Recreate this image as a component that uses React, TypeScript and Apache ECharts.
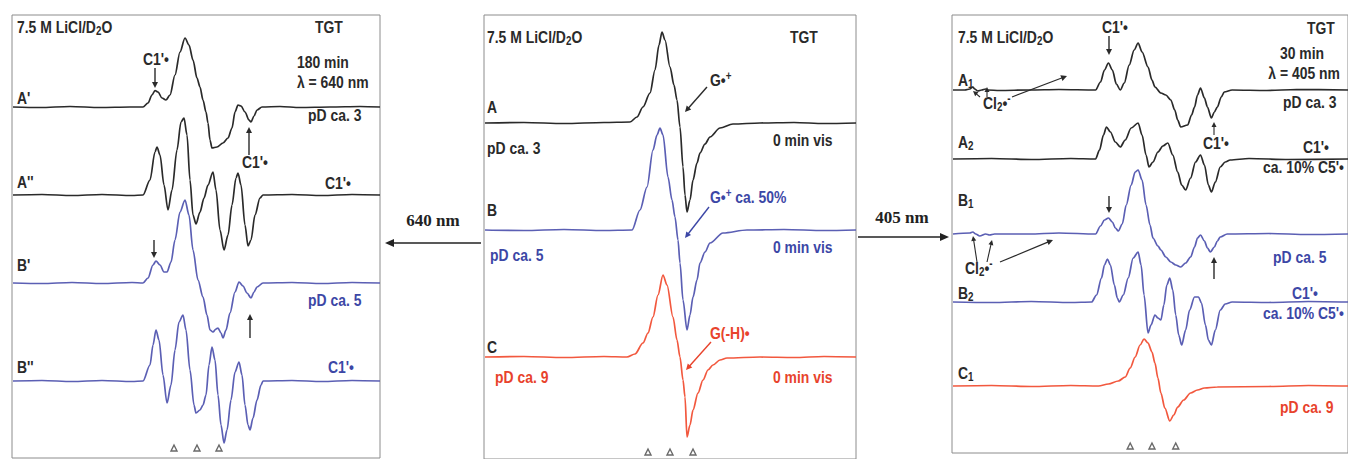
import React, { useEffect, useRef } from "react";
import * as echarts from "echarts";

// ---------- DATA : [field (a.u.), signal amplitude (a.u.)] ----------
// Left panel: 180 min, λ = 640 nm
const specAp = [[1,0],[28,-0.5],[58,0.5],[88,-0.5],[118,0],[131,0],[136,4],[140,12],[143,16.5],[146,15],[150,9],[154,7],[158,12],[163,32],[168,55],[173,69],[177,62],[181,47],[185,29],[188,20],[191,7],[194,-5],[196,-16],[198,-33],[200,-41],[205,-40],[211,-36],[216,-31],[220,-21],[223,-5],[226,2],[229,1],[233,-5],[237,-13],[239,-15],[242,-9],[245,-3],[250,0],[268,0.5],[288,-0.5],[318,0],[348,0.5],[368,0]];
const specApp = [[1,0],[30,0.5],[60,-0.5],[90,0.5],[120,-0.5],[131,0],[138,15],[143,43],[145,48],[148,40],[152,10],[156,-15],[160,5],[165,45],[169,73],[172,77],[175,60],[178,15],[181,-20],[184,-29],[188,-17],[192,-3],[196,10],[201,23],[204,5],[208,-35],[212,-55],[216,-40],[220,-10],[224,17],[226,22],[229,10],[233,-30],[236,-51],[239,-45],[243,-20],[248,-3],[251,0],[280,0.5],[310,-0.5],[340,0.5],[368,0]];
const specBp = [[1,0],[30,-0.5],[60,0.5],[90,-0.5],[120,0.5],[131,0],[136,5],[141,18],[144,22],[148,18],[152,11],[155,11],[159,21],[163,43],[168,71],[173,83],[177,68],[181,33],[186,3],[191,-14],[195,-32],[198,-47],[201,-49],[204,-46],[206,-45],[209,-50],[211,-55],[214,-47],[218,-30],[223,-9],[227,1],[231,-3],[235,-10],[239,-15],[242,-9],[245,-4],[251,0],[280,0.5],[310,-0.5],[340,0.5],[368,0]];
const specBpp = [[1,0],[30,0.5],[60,-0.5],[90,0.5],[120,-0.5],[131,0],[138,16],[141,36],[144,51],[147,41],[151,6],[155,-22],[159,-4],[163,31],[167,59],[171,66],[174,51],[178,11],[182,-24],[184,-32],[188,-29],[191,-24],[194,-14],[197,16],[200,34],[203,21],[206,-14],[209,-44],[212,-62],[215,-49],[219,-19],[223,9],[227,19],[230,6],[233,-24],[236,-44],[238,-49],[241,-37],[245,-19],[249,-4],[251,0],[280,0.5],[310,-0.5],[340,0.5],[368,0]];

// Centre panel: 0 min vis
const specA = [[1,0],[40,0.5],[80,-0.5],[120,0.5],[146,1],[153,6],[159,16],[166,30],[171,53],[175,78],[178,91],[181,83],[186,56],[190,38],[193,23],[196,-4],[199,-44],[201,-72],[203,-89],[206,-77],[209,-57],[213,-40],[216,-30],[221,-21],[226,-14],[236,-5],[249,-1],[276,0],[310,0.5],[340,-0.5],[372,0]];
const specB = [[1,0],[40,-0.5],[80,0.5],[120,-0.5],[148,0],[156,20],[163,43],[169,80],[173,95],[176,102],[179,95],[184,53],[188,30],[191,13],[194,-10],[196,-33],[199,-70],[203,-100],[206,-85],[209,-67],[213,-50],[216,-33],[221,-22],[226,-13],[239,-3],[263,0],[300,0.5],[340,-0.5],[372,0]];
const specC = [[1,0],[40,0.5],[80,-0.5],[120,0.5],[143,0],[151,3],[159,14],[164,24],[169,40],[174,62],[179,82],[183,72],[189,40],[193,17],[196,0],[199,-23],[201,-40],[203,-80],[206,-68],[209,-53],[214,-36],[219,-23],[224,-13],[229,-8],[236,-3],[243,-1],[276,0],[310,-0.5],[340,0.5],[372,0]];

// Right panel: 30 min, λ = 405 nm
const specA1 = [[1,0],[13,0],[18,1],[21,3],[23,1],[26,-1],[30,0],[34,1],[36,0],[48,-0.5],[78,0],[108,0.5],[145,0],[150,8],[154,20],[158,27],[162,20],[166,6],[170,0],[174,7],[179,25],[184,40],[188,47],[192,38],[198,23],[202,10],[205,3],[211,-3],[216,-5],[221,-10],[225,-20],[228,-30],[231,-37],[238,-35],[242,-25],[245,-17],[248,-5],[251,2],[255,-8],[258,-17],[262,-28],[265,-22],[268,-17],[272,-7],[275,-2],[283,0],[318,-0.5],[348,0.5],[400,0]];
const specA2 = [[1,0],[40,0.5],[80,-0.5],[120,0.5],[145,0],[149,9],[153,24],[156,32],[160,27],[165,17],[170,12],[175,19],[181,31],[188,36],[192,24],[196,4],[199,-8],[203,-3],[208,7],[213,13],[218,16],[223,4],[228,-13],[232,-26],[236,-31],[241,-19],[246,-3],[251,4],[255,-6],[259,-26],[262,-33],[266,-23],[271,-8],[276,-3],[281,-1],[300,0.5],[340,-0.5],[400,0]];
const specB1 = [[1,0],[18,1],[21,2],[24,0],[28,-2],[34,0],[38,-1],[43,0],[78,0],[108,1],[145,0],[150,8],[154,14],[158,16],[162,12],[165,6],[168,3],[172,10],[176,29],[181,49],[185,62],[188,64],[192,54],[196,29],[200,9],[203,-4],[208,-12],[211,-16],[216,-23],[221,-28],[226,-31],[231,-33],[236,-29],[241,-23],[245,-13],[248,-4],[251,-1],[255,-7],[258,-14],[261,-18],[265,-13],[268,-7],[271,-3],[278,0],[320,0.5],[360,-0.5],[400,0]];
const specB2 = [[1,0],[40,-0.5],[80,0.5],[120,-0.5],[141,0],[146,7],[151,24],[154,37],[157,43],[160,37],[164,17],[167,4],[169,0],[173,7],[178,24],[183,44],[188,50],[191,37],[194,7],[198,-31],[201,-23],[205,-13],[208,-16],[211,-18],[214,-3],[217,17],[220,24],[223,12],[226,-13],[229,-33],[232,-43],[236,-28],[240,-8],[245,5],[249,5],[252,-1],[256,-23],[259,-38],[262,-43],[266,-28],[271,-8],[276,-2],[283,0],[320,-0.5],[360,0.5],[400,0]];
const specC1 = [[1,0],[40,0.5],[80,-0.5],[120,0.5],[148,0],[158,2],[168,5],[175,9],[180,18],[185,29],[190,41],[194,47],[198,43],[202,34],[205,23],[208,8],[211,-7],[215,-22],[220,-35],[224,-29],[228,-21],[234,-14],[241,-7],[248,-4],[255,-2],[268,-1],[320,-0.5],[360,0.5],[400,0]];

// marker (triangle) field positions per panel
const markersLeft = [162, 185, 207];
const markersCenter = [164, 186, 209];
const markersRight = [180, 202, 226];

// ---------- LAYOUT / STYLE ----------
const BLACK = "#2a2a2a";
const BLUE_LINE = "#5b5fb4";
const RED_LINE = "#f2583e";
const BLUE_TXT = "#3c47a6";
const RED_TXT = "#e8432c";

const panels = [
  { left: 12, top: 15, width: 368, height: 443, xMax: 368 },
  { left: 484, top: 15, width: 372, height: 444, xMax: 372 },
  { left: 952, top: 15, width: 400, height: 438, xMax: 400 },
];

const spectra = [
  { panel: 0, data: specAp, offset: 351, color: BLACK },
  { panel: 0, data: specApp, offset: 263, color: BLACK },
  { panel: 0, data: specBp, offset: 175, color: BLUE_LINE },
  { panel: 0, data: specBpp, offset: 77, color: BLUE_LINE },
  { panel: 1, data: specA, offset: 336, color: BLACK },
  { panel: 1, data: specB, offset: 229, color: BLUE_LINE },
  { panel: 1, data: specC, offset: 102, color: RED_LINE },
  { panel: 2, data: specA1, offset: 363, color: BLACK },
  { panel: 2, data: specA2, offset: 294, color: BLACK },
  { panel: 2, data: specB1, offset: 219, color: BLUE_LINE },
  { panel: 2, data: specB2, offset: 151, color: BLUE_LINE },
  { panel: 2, data: specC1, offset: 67, color: RED_LINE },
];

const markerSets = [
  { panel: 0, xs: markersLeft, y: 10 },
  { panel: 1, xs: markersCenter, y: 7 },
  { panel: 2, xs: markersRight, y: 7 },
];

const FONT = "'Liberation Sans', Arial, sans-serif";
const SERIF = "'Liberation Serif', 'Times New Roman', serif";
const NARROW = 0.82;

function rich(fill: string, size: number) {
  const base = { fontFamily: FONT, fontWeight: "bold" as const, fill };
  return {
    sub: { ...base, fontSize: Math.round(size * 0.68), padding: [8, 0, 0, 0] },
    sup: { ...base, fontSize: Math.round(size * 0.68), padding: [0, 0, 8, 0] },
  };
}

function label(x: number, y: number, text: string, fill = BLACK, size = 17, align = "left") {
  return {
    type: "text",
    x,
    y,
    scaleX: NARROW,
    silent: true,
    style: {
      text,
      fill,
      fontSize: size,
      fontWeight: "bold",
      fontFamily: FONT,
      align,
      verticalAlign: "middle",
      rich: rich(fill, size),
    },
  };
}

function arrow(x1: number, y1: number, x2: number, y2: number, color = BLACK, head = 6, hw = 3, lw = 1.4) {
  const dx = x2 - x1, dy = y2 - y1;
  const L = Math.hypot(dx, dy);
  const ux = dx / L, uy = dy / L;
  const bx = x2 - ux * head, by = y2 - uy * head;
  return [
    { type: "line", silent: true, shape: { x1, y1, x2: bx + ux * 1, y2: by + uy * 1 }, style: { stroke: color, lineWidth: lw } },
    {
      type: "polygon",
      silent: true,
      shape: { points: [[x2, y2], [bx - uy * hw, by + ux * hw], [bx + uy * hw, by - ux * hw]] },
      style: { fill: color },
    },
  ];
}

const C1 = "C1'•";

const graphics: any[] = [
  // left panel
  label(17, 27, "7.5 M LiCl/D{sub|2}O"),
  label(315, 27, "TGT"),
  label(297, 62, "180 min"),
  label(297, 82, "λ = 640 nm"),
  label(17, 98, "A'"),
  label(143, 59, C1),
  ...arrow(155, 68, 155, 88),
  label(308, 115, "pD ca. 3"),
  label(242, 162, C1),
  ...arrow(249, 155, 249, 127),
  label(17, 182, "A''"),
  label(325, 183, C1),
  ...arrow(154, 240, 154, 258),
  label(17, 265, "B'"),
  label(308, 300, "pD ca. 5", BLUE_TXT),
  ...arrow(250, 338, 250, 314),
  label(17, 367, "B''"),
  label(328, 367, C1, BLUE_TXT),

  // centre panel
  label(487, 37, "7.5 M LiCl/D{sub|2}O"),
  label(790, 37, "TGT"),
  label(487, 107, "A"),
  label(710, 80, "G•{sup|+}"),
  ...arrow(707, 87, 685, 112),
  label(487, 148, "pD ca. 3"),
  label(773, 140, "0 min vis"),
  label(487, 210, "B"),
  label(710, 197, "G•{sup|+} ca. 50%", BLUE_TXT),
  ...arrow(709, 207, 685, 238, BLUE_TXT),
  label(490, 255, "pD ca. 5", BLUE_TXT),
  label(773, 247, "0 min vis", BLUE_TXT),
  label(487, 347, "C"),
  label(710, 333, "G(-H)•", RED_TXT),
  ...arrow(711, 342, 686, 370, RED_TXT),
  label(495, 377, "pD ca. 9", RED_TXT),
  label(773, 377, "0 min vis", RED_TXT),

  // right panel
  label(958, 37, "7.5 M LiCl/D{sub|2}O"),
  label(1102, 27, C1),
  ...arrow(1109, 36, 1109, 55),
  label(1307, 28, "TGT"),
  label(1280, 53, "30 min"),
  label(1340, 73, "λ = 405 nm", BLACK, 17, "right"),
  label(958, 80, "A{sub|1}"),
  label(1283, 102, "pD ca. 3"),
  label(983, 103, "Cl{sub|2}•{sup|-}"),
  ...arrow(980, 97, 973, 91, BLACK, 5, 2.5, 1.1),
  ...arrow(987, 97, 987, 87, BLACK, 5, 2.5, 1.1),
  ...arrow(1012, 97, 1067, 76, BLACK, 6, 3, 1.2),
  label(1203, 143, C1),
  ...arrow(1214, 135, 1214, 122, BLACK, 5, 2.5, 1.1),
  label(958, 142, "A{sub|2}"),
  label(1303, 147, C1),
  label(1263, 167, "ca. 10% C5'•"),
  label(958, 200, "B{sub|1}"),
  ...arrow(1109, 196, 1109, 213),
  label(965, 268, "Cl{sub|2}•{sup|-}"),
  ...arrow(977, 262, 973, 236, BLACK, 5, 2.5, 1.1),
  ...arrow(987, 262, 992, 240, BLACK, 5, 2.5, 1.1),
  ...arrow(1000, 262, 1053, 240, BLACK, 6, 3, 1.2),
  label(1273, 257, "pD ca. 5", BLUE_TXT),
  ...arrow(1214, 279, 1214, 257),
  label(958, 293, "B{sub|2}"),
  label(1292, 293, C1, BLUE_TXT),
  label(1263, 313, "ca. 10% C5'•", BLUE_TXT),
  label(958, 373, "C{sub|1}"),
  label(1280, 407, "pD ca. 9", RED_TXT),

  // between panels
  {
    type: "text", x: 433, y: 220, silent: true,
    style: { text: "640 nm", fill: "#222", fontSize: 17, fontWeight: "bold", fontFamily: SERIF, align: "center", verticalAlign: "middle" },
  },
  ...arrow(481, 243, 385, 243, "#222", 9, 4, 1.6),
  {
    type: "text", x: 902, y: 217, silent: true,
    style: { text: "405 nm", fill: "#222", fontSize: 17, fontWeight: "bold", fontFamily: SERIF, align: "center", verticalAlign: "middle" },
  },
  ...arrow(858, 237, 949, 237, "#222", 9, 4, 1.6),
];

export default function App() {
  const ref = useRef<HTMLDivElement>(null);
  useEffect(() => {
    if (!ref.current) return;
    const chart = echarts.init(ref.current, undefined, { renderer: "svg" });
    const grid = panels.map((p) => ({
      left: p.left, top: p.top, width: p.width, height: p.height,
      show: true, borderColor: "#8c8c8c", borderWidth: 1, backgroundColor: "transparent",
    }));
    const xAxis = panels.map((p, i) => ({ type: "value", gridIndex: i, min: 0, max: p.xMax, show: false }));
    const yAxis = panels.map((p, i) => ({ type: "value", gridIndex: i, min: 0, max: p.height, show: false }));
    const series: any[] = spectra.map((s) => ({
      type: "line",
      xAxisIndex: s.panel,
      yAxisIndex: s.panel,
      data: s.data.map(([x, a]) => [x, s.offset + a]),
      showSymbol: false,
      smooth: 0.3,
      smoothMonotone: "x",
      silent: true,
      lineStyle: { color: s.color, width: 1.7 },
      z: 2,
    }));
    markerSets.forEach((m) => {
      series.push({
        type: "scatter",
        xAxisIndex: m.panel,
        yAxisIndex: m.panel,
        data: m.xs.map((x) => [x, m.y]),
        symbol: "triangle",
        symbolSize: 6,
        silent: true,
        itemStyle: { color: "#fff", borderColor: "#444", borderWidth: 1.4 },
        z: 3,
      });
    });
    chart.setOption({
      animation: false,
      backgroundColor: "#ffffff",
      grid,
      xAxis,
      yAxis,
      series,
      graphic: graphics,
    });
    return () => chart.dispose();
  }, []);
  return (
    <div
      ref={ref}
      style={{ position: "absolute", left: 0, top: 0, width: 1348, height: 459, background: "#fff" }}
    />
  );
}
